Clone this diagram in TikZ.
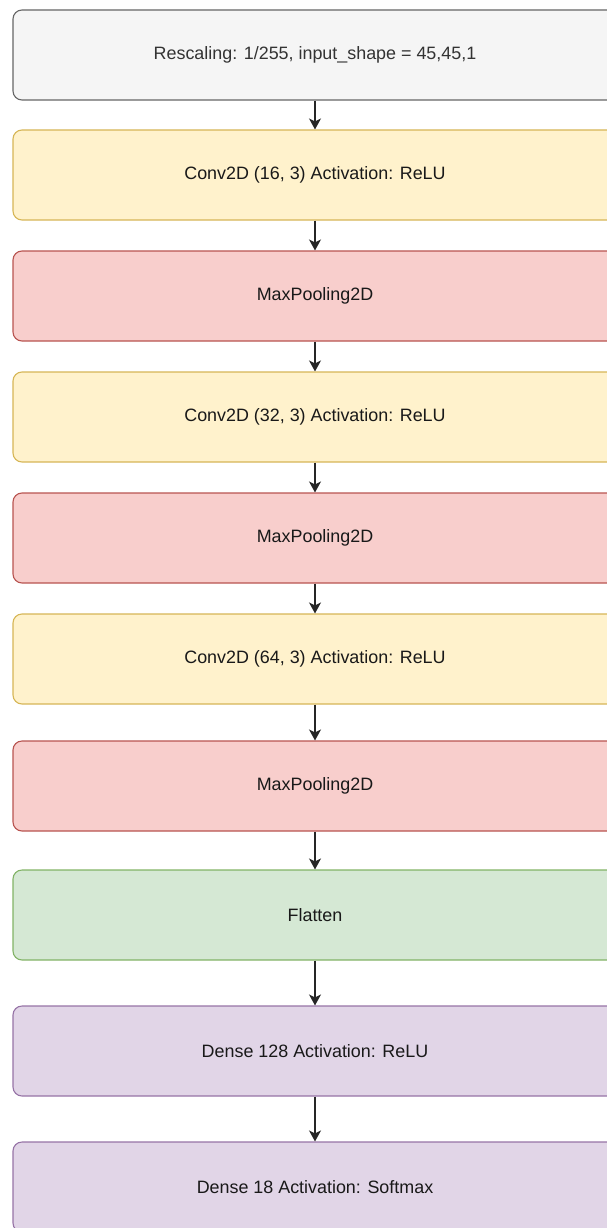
\documentclass[tikz,border=0pt]{standalone}
\usepackage{fontspec}
\setmainfont{Liberation Sans}
\usetikzlibrary{arrows.meta}

\definecolor{greyfill}{HTML}{F5F5F5}
\definecolor{greyline}{HTML}{666666}
\definecolor{yellowfill}{HTML}{FFF2CC}
\definecolor{yellowline}{HTML}{D6B656}
\definecolor{redfill}{HTML}{F8CECC}
\definecolor{redline}{HTML}{B85450}
\definecolor{greenfill}{HTML}{D5E8D4}
\definecolor{greenline}{HTML}{82B366}
\definecolor{purplefill}{HTML}{E1D5E7}
\definecolor{purpleline}{HTML}{9673A6}

\begin{document}
\begin{tikzpicture}[x=1pt,y=-1pt,
    layer/.style={draw,rounded corners=9pt,line width=1.1pt,minimum width=604pt,minimum height=90pt,
        font=\fontsize{17.9}{21}\selectfont},
    rescale/.style={fill=greyfill,draw=greyline,text=black!80},
    conv/.style={fill=yellowfill,draw=yellowline,text=black!90},
    pool/.style={fill=redfill,draw=redline,text=black!90},
    flat/.style={fill=greenfill,draw=greenline,text=black!90},
    dense/.style={fill=purplefill,draw=purpleline,text=black!90},
    flow/.style={-{Stealth[length=11pt,width=12pt,inset=3pt]},line width=1.4pt,black!85}]
    \useasboundingbox (0,0) rectangle (607,1228);
    \clip (0,0) rectangle (607,1228);
    % layers from top to bottom, boxes run out past the right and bottom edge
    \foreach \yc/\sty/\txt[count=\i] in {55/rescale/{Rescaling: 1/255, input\_shape = 45,45,1},
        175/conv/{Conv2D (16, 3) Activation: ReLU},
        296/pool/{MaxPooling2D},
        417/conv/{Conv2D (32, 3) Activation: ReLU},
        538/pool/{MaxPooling2D},
        659/conv/{Conv2D (64, 3) Activation: ReLU},
        786/pool/{MaxPooling2D},
        915/flat/{Flatten},
        1051/dense/{Dense 128 Activation: ReLU},
        1187/dense/{Dense 18 Activation: Softmax}}{
        \node[layer,\sty] (L\i) at (315,\yc) {\txt};
        \ifnum\i=1
            % first layer has no input arrow
        \else%
            \pgfmathtruncatemacro\iprev{\i-1}
            \draw[flow] (L\iprev) -- (L\i);
        \fi%
    }
\end{tikzpicture}
\end{document}
